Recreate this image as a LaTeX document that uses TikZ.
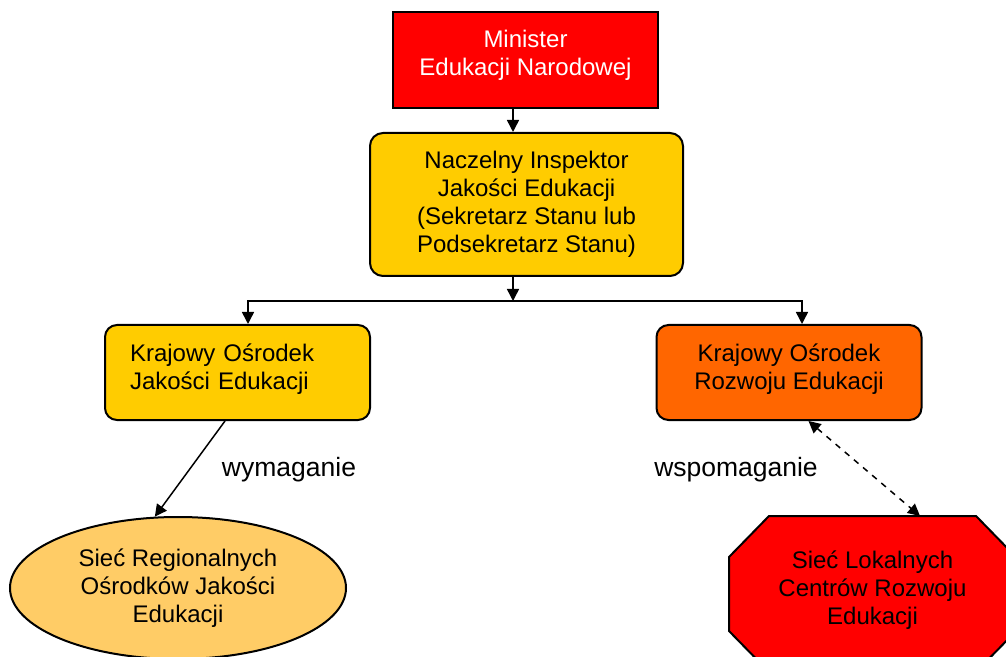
\documentclass[tikz,border=0pt]{standalone}
\usepackage{fontspec}
\setmainfont{Liberation Sans}
\usetikzlibrary{shapes.geometric,arrows.meta,backgrounds}

\definecolor{mered}{HTML}{FF0000}
\definecolor{meyellow}{HTML}{FFCC00}
\definecolor{meorange}{HTML}{FF6600}
\definecolor{mepeach}{HTML}{FFCC66}

\begin{document}
\begin{tikzpicture}[x=0.5pt,y=-0.5pt,thick]
    % `unit' is used for every box of the chart.
    % `roundunit' is used for the rounded boxes.
    % `link' is used for the arrows, `tag' for the words beside them.
    \tikzstyle{unit} = [draw,line width=1pt,inner sep=0pt,align=center,
      font=\fontsize{12pt}{14pt}\selectfont]
    \tikzstyle{roundunit} = [unit,rounded corners=6pt,minimum width=132.5pt,minimum height=47.5pt]
    \tikzstyle{link} = [line width=0.75pt,-{Triangle[length=6pt,width=6pt]}]
    \tikzstyle{tag} = [font=\fontsize{13.25pt}{16pt}\selectfont]
    %
    \useasboundingbox (0,0) rectangle (1006,657);

    \node[unit,fill=mered,text=white,minimum width=132.5pt,minimum height=48pt,text depth=7pt]
      (minister) at (525.5,60) {Minister\\Edukacji Narodowej};
    \node[unit,fill=meyellow,rounded corners=6.5pt,minimum width=156.5pt,minimum height=71.5pt]
      (naczelny) at (526.5,204.5) {Naczelny Inspektor\\Jakości Edukacji\\(Sekretarz Stanu lub\\Podsekretarz Stanu)};
    \coordinate (fork) at (513,301);

    \node[roundunit,fill=meyellow,text width=107.5pt,align=left,text height=9pt,text depth=20pt]
      (kojed) at (237.5,372.5) {Krajowy Ośrodek\\Jakości Edukacji};
    \node[roundunit,fill=meorange,text depth=6pt]
      (kored) at (789,372.5) {Krajowy Ośrodek\\Rozwoju Edukacji};

    \node[unit,ellipse,fill=mepeach,minimum width=168pt,minimum height=71pt]
      (srojed) at (178,588) {Sieć Regionalnych\\Ośrodków Jakości\\Edukacji};
    \node[unit,draw=none,minimum width=142.5pt,minimum height=77pt,text depth=6pt]
      (slcre) at (872.5,594) {Sieć Lokalnych\\Centrów Rozwoju\\Edukacji};

    \node[tag] (wym) at (289,470) {wymaganie};
    \node[tag] (wsp) at (736,470) {wspomaganie};

    \begin{pgfonlayer}{background}
        % Draw the octagon behind its text.
        \draw[line width=1pt,fill=mered]
          ([xshift=20pt]slcre.north west) -- ([xshift=-20pt]slcre.north east)
          -- ([yshift=-20.5pt]slcre.north east) -- ([yshift=20.5pt]slcre.south east)
          -- ([xshift=-20pt]slcre.south east) -- ([xshift=20pt]slcre.south west)
          -- ([yshift=20.5pt]slcre.south west) -- ([yshift=-20.5pt]slcre.north west) -- cycle;
    \end{pgfonlayer}

    % Draw arrows.
    \draw[link] (minister.south -| fork) -- (naczelny.north -| fork);
    \draw[link] (naczelny.south -| fork) -- (fork);
    \draw[link] (fork) -| ([xshift=5.25pt]kojed.north);
    \draw[link] (fork) -| ([xshift=6.5pt]kored.north);
    \draw[link] ([xshift=-6.25pt]kojed.south) -- (srojed.108);
    \draw[link,{Triangle[length=6pt,width=6pt]}-{Triangle[length=6pt,width=6pt]},dashed]
      ([xshift=9.75pt]kored.south) -- ([xshift=23.75pt]slcre.north);
\end{tikzpicture}
\end{document}
